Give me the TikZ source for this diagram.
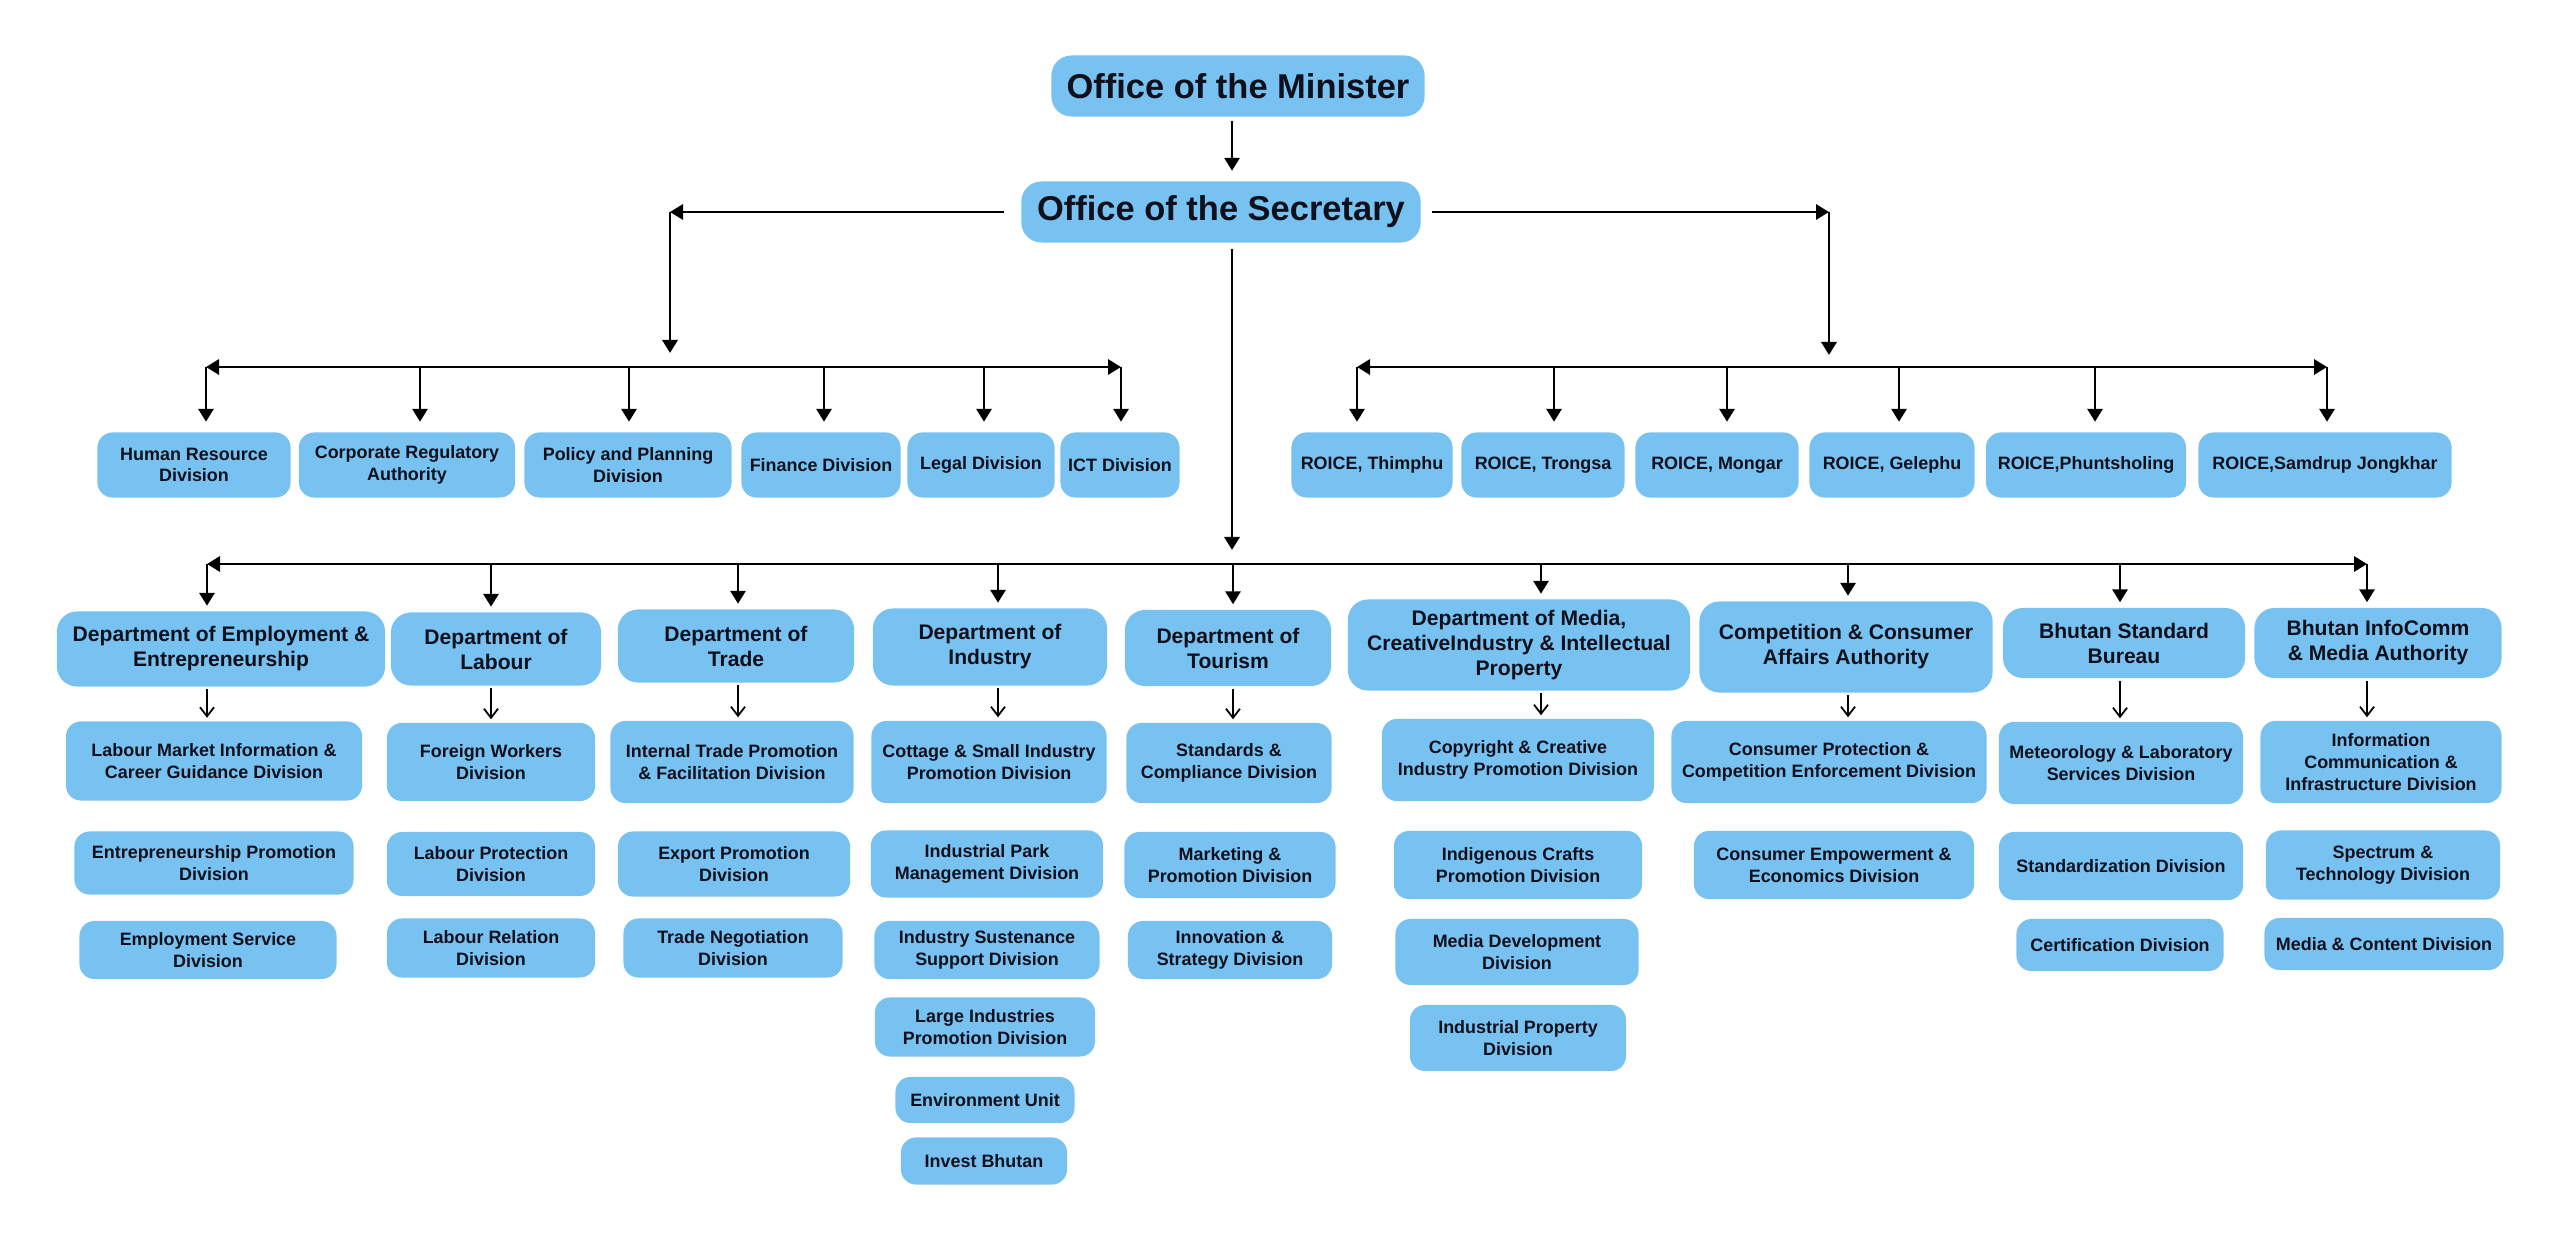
\documentclass[tikz,border=0pt]{standalone}
\usepackage{fontspec}
\setmainfont{Liberation Sans}
\usetikzlibrary{arrows.meta}
\definecolor{boxblue}{HTML}{78C2F1}
\definecolor{boxtext}{HTML}{10101C}

\begin{document}
\begin{tikzpicture}[x=0.01cm,y=-0.01cm,
  divbox/.style={fill=boxblue,text=boxtext,rounded corners=1.5mm,inner sep=0pt,align=center,
    font=\bfseries\fontsize{5.1}{6.2}\selectfont},
  deptbox/.style={divbox,rounded corners=2mm,font=\bfseries\fontsize{6}{7.1}\selectfont},
  headbox/.style={divbox,rounded corners=2mm,font=\bfseries\fontsize{9.8}{11}\selectfont},
  boxsize/.style 2 args={minimum width=#1,minimum height=#2},
  main/.style={-{Triangle[length=3.7pt,width=4.3pt]},line width=0.8pt},
  bar/.style={{Triangle[length=3.7pt,width=4.3pt]}-{Triangle[length=3.7pt,width=4.3pt]},line width=0.8pt},
  sub/.style={-{Straight Barb[length=2.6pt,width=4pt]},line width=0.5pt},
]
\useasboundingbox (0,0) rectangle (2560,1240);

% top
\node[headbox,boxsize={3.73cm}{0.61cm}] (minister) at (1238,86) {Office of the Minister};
\node[headbox,boxsize={3.99cm}{0.61cm}] (secretary) at (1221,212) {Office of the Secretary};
\coordinate (spine) at (1232,0);
\coordinate (sl) at (670,212);
\coordinate (sr) at (1829,212);

% support units
\node[divbox,boxsize={1.93cm}{0.65cm}] (hrd) at (194,465) {Human Resource\\Division};
\node[divbox,boxsize={2.16cm}{0.65cm}] (cra) at (407,465) {Corporate Regulatory\\Authority};
\node[divbox,boxsize={2.07cm}{0.65cm}] (ppd) at (628,465) {Policy and Planning\\Division};
\node[divbox,boxsize={1.59cm}{0.65cm}] (fin) at (821,465) {Finance Division};
\node[divbox,boxsize={1.47cm}{0.65cm}] (leg) at (981,465) {Legal Division};
\node[divbox,boxsize={1.19cm}{0.65cm}] (ict) at (1120,465) {ICT Division};

% regional offices
\node[divbox,boxsize={1.61cm}{0.65cm}] (rthi) at (1372,465) {ROICE, Thimphu};
\node[divbox,boxsize={1.63cm}{0.65cm}] (rtro) at (1543,465) {ROICE, Trongsa};
\node[divbox,boxsize={1.63cm}{0.65cm}] (rmon) at (1717,465) {ROICE, Mongar};
\node[divbox,boxsize={1.65cm}{0.65cm}] (rgel) at (1892,465) {ROICE, Gelephu};
\node[divbox,boxsize={2.00cm}{0.65cm}] (rphu) at (2086,465) {ROICE,Phuntsholing};
\node[divbox,boxsize={2.53cm}{0.65cm}] (rsam) at (2325,465) {ROICE,Samdrup Jongkhar};

% departments
\node[deptbox,boxsize={3.28cm}{0.75cm}] (dee) at (221,649) {Department of Employment \&\\Entrepreneurship};
\node[deptbox,boxsize={2.10cm}{0.73cm}] (dlab) at (496,649) {Department of\\Labour};
\node[deptbox,boxsize={2.36cm}{0.73cm}] (dtrd) at (736,646) {Department of\\Trade};
\node[deptbox,boxsize={2.34cm}{0.77cm}] (dind) at (990,647) {Department of\\Industry};
\node[deptbox,boxsize={2.06cm}{0.76cm}] (dtou) at (1228,648) {Department of\\Tourism};
\node[deptbox,boxsize={3.42cm}{0.91cm}] (dmed) at (1519,645) {Department of Media,\\CreativeIndustry \& Intellectual\\Property};
\node[deptbox,boxsize={2.93cm}{0.91cm}] (dcca) at (1846,647) {Competition \& Consumer\\Affairs Authority};
\node[deptbox,boxsize={2.42cm}{0.70cm}] (dbsb) at (2124,643) {Bhutan Standard\\Bureau};
\node[deptbox,boxsize={2.47cm}{0.70cm}] (dbic) at (2378,643) {Bhutan InfoComm\\\& Media Authority};

% divisions
\node[divbox,boxsize={2.96cm}{0.79cm}] (lmi) at (214,761) {Labour Market Information \&\\Career Guidance Division};
\node[divbox,boxsize={2.79cm}{0.63cm}] (epd) at (214,863) {Entrepreneurship Promotion\\Division};
\node[divbox,boxsize={2.57cm}{0.58cm}] (esd) at (208,950) {Employment Service\\Division};

\node[divbox,boxsize={2.08cm}{0.78cm}] (fwd) at (491,762) {Foreign Workers\\Division};
\node[divbox,boxsize={2.08cm}{0.64cm}] (lpd) at (491,864) {Labour Protection\\Division};
\node[divbox,boxsize={2.08cm}{0.59cm}] (lrd) at (491,948) {Labour Relation\\Division};

\node[divbox,boxsize={2.43cm}{0.82cm}] (itp) at (732,762) {Internal Trade Promotion\\\& Facilitation Division};
\node[divbox,boxsize={2.32cm}{0.65cm}] (exp) at (734,864) {Export Promotion\\Division};
\node[divbox,boxsize={2.19cm}{0.59cm}] (tnd) at (733,948) {Trade Negotiation\\Division};

\node[divbox,boxsize={2.35cm}{0.82cm}] (csi) at (989,762) {Cottage \& Small Industry\\Promotion Division};
\node[divbox,boxsize={2.32cm}{0.67cm}] (ipm) at (987,864) {Industrial Park\\Management Division};
\node[divbox,boxsize={2.25cm}{0.58cm}] (iss) at (987,950) {Industry Sustenance\\Support Division};
\node[divbox,boxsize={2.20cm}{0.59cm}] (lip) at (985,1027) {Large Industries\\Promotion Division};
\node[divbox,boxsize={1.79cm}{0.46cm}] (env) at (985,1100) {Environment Unit};
\node[divbox,boxsize={1.66cm}{0.47cm}] (inv) at (984,1161) {Invest Bhutan};

\node[divbox,boxsize={2.05cm}{0.80cm}] (scd) at (1229,763) {Standards \&\\Compliance Division};
\node[divbox,boxsize={2.11cm}{0.66cm}] (mpd) at (1230,865) {Marketing \&\\Promotion Division};
\node[divbox,boxsize={2.04cm}{0.58cm}] (isd) at (1230,950) {Innovation \&\\Strategy Division};

\node[divbox,boxsize={2.72cm}{0.82cm}] (cci) at (1518,760) {Copyright \& Creative\\Industry Promotion Division};
\node[divbox,boxsize={2.48cm}{0.68cm}] (icp) at (1518,865) {Indigenous Crafts\\Promotion Division};
\node[divbox,boxsize={2.43cm}{0.66cm}] (mdd) at (1517,952) {Media Development\\Division};
\node[divbox,boxsize={2.16cm}{0.66cm}] (ipd) at (1518,1038) {Industrial Property\\Division};

\node[divbox,boxsize={3.15cm}{0.82cm}] (cpc) at (1829,762) {Consumer Protection \&\\Competition Enforcement Division};
\node[divbox,boxsize={2.80cm}{0.68cm}] (cee) at (1834,865) {Consumer Empowerment \&\\Economics Division};

\node[divbox,boxsize={2.44cm}{0.82cm}] (mls) at (2121,763) {Meteorology \& Laboratory\\Services Division};
\node[divbox,boxsize={2.44cm}{0.68cm}] (sdd) at (2121,866) {Standardization Division};
\node[divbox,boxsize={2.07cm}{0.52cm}] (cer) at (2120,945) {Certification Division};

\node[divbox,boxsize={2.41cm}{0.82cm}] (ici) at (2381,762) {Information\\Communication \&\\Infrastructure Division};
\node[divbox,boxsize={2.34cm}{0.69cm}] (spt) at (2383,865) {Spectrum \&\\Technology Division};
\node[divbox,boxsize={2.39cm}{0.52cm}] (mcd) at (2384,944) {Media \& Content Division};

% connectors
\draw[main,shorten <=0.4mm,shorten >=1mm] (minister.south -| spine) -- (secretary.north -| spine);
\draw[main,shorten <=1.7mm] (secretary.west) -- (sl);
\draw[main,shorten <=1.1mm] (secretary.east) -- (sr);

\foreach \x/\n in {206/hrd,420/cra,629/ppd,824/fin,984/leg,1121/ict}{
  \coordinate (lb-\n) at (\x,367);
  \draw[main,shorten >=1mm] (lb-\n) -- (lb-\n |- \n.north);
}
\draw[bar] (lb-hrd) -- (lb-ict);
\draw[main,shorten >=1.4mm] (sl) -- (sl |- lb-hrd);

\foreach \x/\n in {1357/rthi,1554/rtro,1727/rmon,1899/rgel,2095/rphu,2327/rsam}{
  \coordinate (rb-\n) at (\x,367);
  \draw[main,shorten >=1mm] (rb-\n) -- (rb-\n |- \n.north);
}
\draw[bar] (rb-rthi) -- (rb-rsam);
\draw[main,shorten >=1.2mm] (sr) -- (sr |- rb-rthi);

\foreach \x/\n/\m in {207/dee/lmi,491/dlab/fwd,738/dtrd/itp,998/dind/csi,1233/dtou/scd,
    1541/dmed/cci,1848/dcca/cpc,2120/dbsb/mls,2367/dbic/ici}{
  \coordinate (db-\n) at (\x,564);
  \draw[main,shorten >=0.5mm] (db-\n) -- (db-\n |- \n.north);
  \draw[sub,shorten <=0.2mm,shorten >=0.3mm] (\n.south -| db-\n) -- (\m.north -| db-\n);
}
\draw[bar] (db-dee) -- (db-dbic);
\draw[main,shorten <=0.6mm,shorten >=1.4mm] (secretary.south -| spine) -- (spine |- db-dee);
\end{tikzpicture}
\end{document}
